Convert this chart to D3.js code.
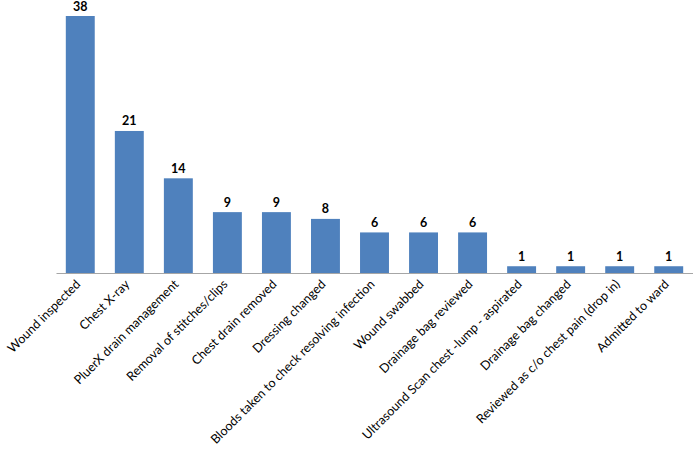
<!DOCTYPE html>
<html><head><meta charset="utf-8">
<script src="https://cdn.jsdelivr.net/npm/d3@7"></script>
<style>body{margin:0;background:#fff}svg{display:block}</style>
</head><body><svg id="c" width="693" height="451"></svg>
<script>
const categories = ["Wound inspected","Chest X-ray","PluerX drain management","Removal of stitches/clips","Chest drain removed","Dressing changed","Bloods taken to check resolving infection","Wound swabbed","Drainage bag reviewed","Ultrasound Scan chest -lump - aspirated","Drainage bag changed","Reviewed as c/o chest pain (drop in)","Admitted to ward"];
const values = [38,21,14,9,9,8,6,6,6,1,1,1,1];

const svg = d3.select("#c");
const x = d3.scaleBand().domain(categories).range([56,693]).paddingInner(0.41).paddingOuter(0.2);
const y = d3.scaleLinear().domain([0,38]).range([273,16]);
const font = "Lato, 'Open Sans', sans-serif";

svg.selectAll("rect.bar").data(values).join("rect")
  .attr("class","bar")
  .attr("x",(d,i)=>x(categories[i]))
  .attr("width",x.bandwidth())
  .attr("y",d=>y(d))
  .attr("height",d=>y(0)-y(d))
  .attr("fill","#4f81bd");

svg.selectAll("text.val").data(values).join("text")
  .attr("class","val")
  .attr("x",(d,i)=>x(categories[i])+x.bandwidth()/2)
  .attr("y",d=>y(d)-5.5)
  .attr("text-anchor","middle")
  .attr("font-family",font).attr("font-weight","bold").attr("font-size",12.5)
  .attr("fill","#000")
  .text(d=>d);

const axis = d3.axisBottom(x).tickSize(0).tickPadding(0);
const g = svg.append("g").attr("transform",`translate(0,${y(0)})`).call(axis);
g.select(".domain").attr("stroke","#a6a6a6").attr("stroke-width",1.2);
const labels = g.selectAll(".tick text")
  .attr("font-family",font).attr("font-size",13).attr("fill","#000")
  .attr("text-anchor","end")
  .attr("dy",null).attr("y",0)
  .attr("transform","translate(1,12) rotate(-45)");
// fit label size so the longest label spans the reference length
const longest = labels.filter(d=>d===categories[6]).node();
const len = longest.getComputedTextLength();
labels.attr("font-size", 13*226/len);
</script></body></html>
